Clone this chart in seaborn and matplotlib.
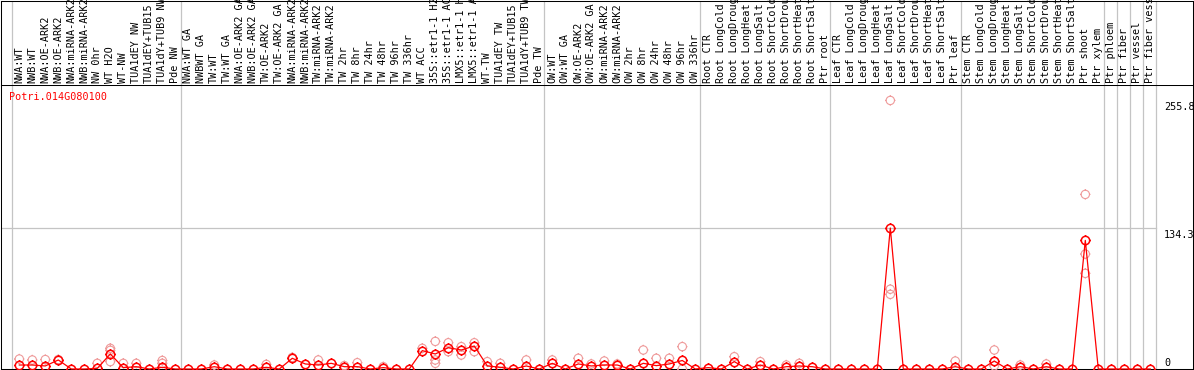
import numpy as np
import pandas as pd
import matplotlib
matplotlib.use("Agg")
import matplotlib.pyplot as plt
import seaborn as sns
from matplotlib.path import Path

gene = "Potri.014G080100"

samples = [
    # group 1
    "NWA:WT", "NWB:WT", "NWA:OE-ARK2", "NWB:OE-ARK2", "NWA:miRNA-ARK2",
    "NWB:miRNA-ARK2", "NW 0hr", "WT H2O", "WT-NW", "TUA1dEY NW",
    "TUA1dEY+TUB15", "TUA1dY+TUB9 NW", "Pde NW",
    # group 2
    "NWA:WT GA", "NWBWT GA", "TW:WT", "TW:WT GA", "NWA:OE-ARK2 GA",
    "NWB:OE-ARK2 GA", "TW:OE-ARK2", "TW:OE-ARK2 GA", "NWA:miRNA-ARK2",
    "NWB:miRNA-ARK2", "TW:miRNA-ARK2", "TW:miRNA-ARK2", "TW 2hr", "TW 8hr",
    "TW 24hr", "TW 48hr", "TW 96hr", "TW 336hr", "WT ACC",
    "35S::etr1-1 H2O", "35S::etr1-1 ACC", "LMX5::etr1-1 H2O",
    "LMX5::etr1-1 ACC", "WT-TW", "TUA1dEY TW", "TUA1dEY+TUB15",
    "TUA1dY+TUB9 TW", "Pde TW",
    # group 3
    "OW:WT", "OW:WT GA", "OW:OE-ARK2", "OW:OE-ARK2 GA", "OW:miRNA-ARK2",
    "OW:miRNA-ARK2", "OW 2hr", "OW 8hr", "OW 24hr", "OW 48hr", "OW 96hr",
    "OW 336hr",
    # root
    "Root CTR", "Root LongCold", "Root LongDrought", "Root LongHeat",
    "Root LongSalt", "Root ShortCold", "Root ShortDrought", "Root ShortHeat",
    "Root ShortSalt", "Ptr root",
    # leaf
    "Leaf CTR", "Leaf LongCold", "Leaf LongDrought", "Leaf LongHeat",
    "Leaf LongSalt", "Leaf ShortCold", "Leaf ShortDrought", "Leaf ShortHeat",
    "Leaf ShortSalt", "Ptr leaf",
    # stem
    "Stem CTR", "Stem LongCold", "Stem LongDrought", "Stem LongHeat",
    "Stem LongSalt", "Stem ShortCold", "Stem ShortDrought", "Stem ShortHeat",
    "Stem ShortSalt", "Ptr shoot", "Ptr xylem",
    "Ptr phloem", "Ptr fiber", "Ptr vessel", "Ptr fiber vessel",
]

means = [
    3.8, 3.8, 2.9, 8.6, 0, 0, 0.6, 14.3, 1.3, 2.2, 0, 1.6, 0,
    0, 0, 2.2, 0, 0, 0, 1.6, 0, 10.2, 4.8, 3.8, 5.4, 2.2, 2.2, 0, 1.3, 0, 0,
    17.5, 14.3, 20.3, 18.1, 21.9, 2.9, 1.6, 0, 2.9, 0,
    5.4, 0, 4.8, 2.9, 3.8, 3.8, 0, 5.4, 3.2, 4.8, 8.1, 0,
    1.3, 0, 7.0, 0, 3.8, 0, 2.2, 2.9, 2.2, 0,
    0, 0, 0, 0, 134.3, 0, 0, 0, 0, 2.2,
    0, 0, 7.6, 0, 2.2, 0, 2.2, 0, 0, 122.5, 0,
    0, 0, 0, 0,
]

# replicate values that show apart from the mean, keyed by sample position
replicates = {
    0: [9.5], 1: [8.6], 2: [9.0], 3: [9.0], 6: [5.4], 7: [19.7, 17.8, 7.0],
    8: [5.4], 9: [5.4], 11: [8.1, 5.4], 15: [3.8], 19: [4.4], 21: [11.0],
    23: [8.6], 25: [3.2], 26: [6.0], 28: [2.2], 31: [19.7],
    32: [26.3, 8.6, 5.4], 33: [25.0, 16.5], 34: [21.3, 13.3],
    35: [25.0, 16.5], 36: [7.0], 37: [5.4], 39: [8.6], 41: [8.6],
    43: [10.2], 44: [4.8], 45: [7.6], 46: [4.8], 48: [18.1], 49: [10.2],
    50: [10.2], 51: [21.3, 0.0], 55: [11.7], 57: [7.0], 59: [3.8], 60: [5.4],
    67: [255.8, 76.0, 71.1], 72: [7.6], 75: [18.1, 3.0], 77: [3.8],
    79: [4.8], 82: [166.3, 109.5, 91.1],
}

group_starts = [0, 13, 41, 53, 63, 73, 84, 85, 86, 87, 88]
axis_marks = [255.8, 134.3]

W, H = 1194, 370
RED = "#ff0000"
PINK = "#ef9a9a"
GREY = "#c4c4c4"
MONO = "DejaVu Sans Mono"
FS = 7.3

fig = plt.figure(figsize=(W / 100, H / 100), dpi=100)


def px_box(x0, y0, x1, y1):
    return [x0 / W, 1 - y1 / H, (x1 - x0) / W, (y1 - y0) / H]


ax = fig.add_axes(px_box(1, 85, 1193, 369))
hd = fig.add_axes(px_box(1, 0.5, 1193, 85))

xlim = ((1 - 19.3) / 13, (1193 - 19.3) / 13)
for a in (ax, hd):
    a.set_xlim(*xlim)
    a.set_xticks([])
    a.set_yticks([])
    a.set_facecolor("white")
    for s in a.spines.values():
        s.set_color("black")
        s.set_linewidth(0.75)
    for b in group_starts:
        a.axvline(b - 0.6, color=GREY, lw=0.9, zorder=1)
hd.spines["bottom"].set_visible(False)
ax.set_ylim(0, 270.5)
hd.set_ylim(0, 85)

# sample labels in the header strip
for i, name in enumerate(samples):
    hd.text(i, 2, name, rotation=90, ha="center", va="bottom",
            family=MONO, fontsize=FS, color="black")

# marker: open circle with four small ticks
circ = Path.unit_circle()
stubs = Path([(0, 1), (0, 1.25), (0, -1), (0, -1.25),
              (1, 0), (1.25, 0), (-1, 0), (-1.25, 0)],
             [Path.MOVETO, Path.LINETO] * 4)
mark = Path.make_compound_path(circ, stubs)

# gridline at the mean maximum
right_edge = (group_starts[-1] - 0.6 - xlim[0]) / (xlim[1] - xlim[0])
ax.axhline(axis_marks[1], xmin=0, xmax=right_edge, color=GREY, lw=0.9, zorder=1)

rx, ry = [], []
for k, vals in replicates.items():
    for v in vals:
        rx.append(k)
        ry.append(v)
rep_df = pd.DataFrame({"x": rx, "y": ry})

sns.scatterplot(data=rep_df, x="x", y="y", marker=mark, s=56,
                facecolors="none", edgecolor=PINK, linewidth=0.8,
                clip_on=False, zorder=4, legend=False, ax=ax)

mean_df = pd.DataFrame({"x": np.arange(len(samples)), "y": means})
sns.lineplot(data=mean_df, x="x", y="y", color=RED, lw=0.9,
             marker=mark, markersize=7.5, mfc="none", mec=RED, mew=1.1,
             clip_on=False, zorder=5, ax=ax)

ax.set_xlabel("")
ax.set_ylabel("")

lab_x = (1164 - 19.3) / 13
for v in axis_marks:
    ax.annotate(f"{v}", xy=(lab_x, v), xytext=(0, -2), textcoords="offset pixels",
                ha="left", va="top", family=MONO, fontsize=FS, annotation_clip=False)
ax.annotate("0", xy=(lab_x, 0), xytext=(0, 1), textcoords="offset pixels",
            ha="left", va="bottom", family=MONO, fontsize=FS, annotation_clip=False)

fig.text(9.5 / W, 1 - 97 / H, gene, ha="left", va="center",
         family=MONO, fontsize=FS, color=RED)

fig.savefig("out.png", dpi=100)
